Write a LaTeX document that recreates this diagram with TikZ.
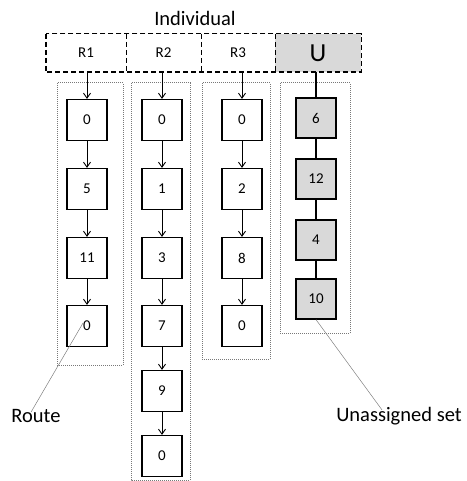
\documentclass[tikz,border=0pt]{standalone}
\usepackage{fontspec}
\setmainfont{Carlito}
\usetikzlibrary{arrows.meta}
\definecolor{cellgray}{RGB}{217,217,217}
\definecolor{dotgray}{RGB}{120,120,120}
\begin{document}
\begin{tikzpicture}[x=1pt,y=-1pt,
  lbl/.style={font=\fontsize{20.5}{22}\selectfont, inner sep=0pt},
  cell/.style={minimum width=#1, minimum height=38pt, inner sep=0pt, font=\fontsize{15}{17}\selectfont},
  rbox/.style={draw, line width=1.2pt, minimum width=40pt, minimum height=41pt, inner sep=0pt, font=\fontsize{15}{17}\selectfont},
  ubox/.style={rbox, fill=cellgray, minimum height=40pt},
  arr/.style={-{Straight Barb[length=5pt,width=7pt]}, line width=0.9pt},
  ulink/.style={line width=1.8pt},
  group/.style={draw=dotgray, densely dotted, line width=1pt},
  note/.style={draw=gray, line width=0.5pt}
]
\useasboundingbox (0,0) rectangle (466,481);

\node[lbl] (ind) at (195,18) {Individual};

% top bar
\node[cell=80pt] (R1) at (86,53) {R1};
\node[cell=75pt] (R2) at (163.5,53) {R2};
\node[cell=74pt] (R3) at (238,53) {R3};
\node[cell=86pt, fill=cellgray, font=\fontsize{26}{28}\selectfont] (U) at (318,53) {U};
\draw[dash pattern=on 5pt off 3pt, line width=1.4pt] (R1.north west) rectangle (U.south east);
\draw[dash pattern=on 5pt off 3pt, line width=1pt] (R1.north east) -- (R1.south east);
\draw[dash pattern=on 5pt off 3pt, line width=1pt] (R2.north east) -- (R2.south east);
\draw[dash pattern=on 5pt off 3pt, line width=1pt] (R3.north east) -- (R3.south east);

% group frames
\draw[group] (57,83) rectangle (123,365);
\draw[group] (131,83) rectangle (190,480);
\draw[group] (202,83) rectangle (270,359);
\draw[group] (280,83) rectangle (350,333);

% route 1
\node[rbox] (a1) at (87,120) {0};
\node[rbox] (a2) at (87,189) {5};
\node[rbox] (a3) at (87,258) {11};
\node[rbox] (a4) at (87,326) {0};
% route 2
\node[rbox] (b1) at (162,120) {0};
\node[rbox] (b2) at (162,189) {1};
\node[rbox] (b3) at (162,258) {3};
\node[rbox] (b4) at (162,326) {7};
\node[rbox] (b5) at (162,391) {9};
\node[rbox] (b6) at (162,456) {0};
% route 3
\node[rbox] (c1) at (242,120) {0};
\node[rbox] (c2) at (242,189) {2};
\node[rbox] (c3) at (242,258) {8};
\node[rbox] (c4) at (242,326) {0};
% unassigned
\node[ubox] (u1) at (316,118) {6};
\node[ubox] (u2) at (316,179) {12};
\node[ubox] (u3) at (316,240) {4};
\node[ubox] (u4) at (316,299) {10};
\draw[white, line width=0.6pt] ([xshift=0.6pt,yshift=-11pt]u3.south west) -- ([xshift=-0.6pt,yshift=-11pt]u3.south east);

% arrows
\draw[arr] (a1.north |- R1.south) -- (a1.north);
\draw[arr] (a1) -- (a2);
\draw[arr] (a2) -- (a3);
\draw[arr] (a3) -- (a4);
\draw[arr] (b1.north |- R2.south) -- (b1.north);
\draw[arr] (b1) -- (b2);
\draw[arr] (b2) -- (b3);
\draw[arr] (b3) -- (b4);
\draw[arr] (b4) -- (b5);
\draw[arr] (b5) -- (b6);
\draw[arr] (c1.north |- R3.south) -- (c1.north);
\draw[arr] (c1) -- (c2);
\draw[arr] (c2) -- (c3);
\draw[arr] (c3) -- (c4);
\draw[ulink] (u1.north |- U.south) -- (u1.north);
\draw[ulink] (u1) -- (u2);
\draw[ulink] (u2) -- (u3);
\draw[ulink] (u3) -- (u4);

% annotations
\node[lbl] (route) at (36,416) {Route};
\node[lbl] (unas) at (399,416) {Unassigned set};
\coordinate (rp) at (83,323);
\draw[note] ([xshift=-5pt,yshift=-3pt]route.north) -- (rp);
\draw[note] ([xshift=-17pt,yshift=-3pt]unas.north) -- (u4.south);
\end{tikzpicture}
\end{document}
